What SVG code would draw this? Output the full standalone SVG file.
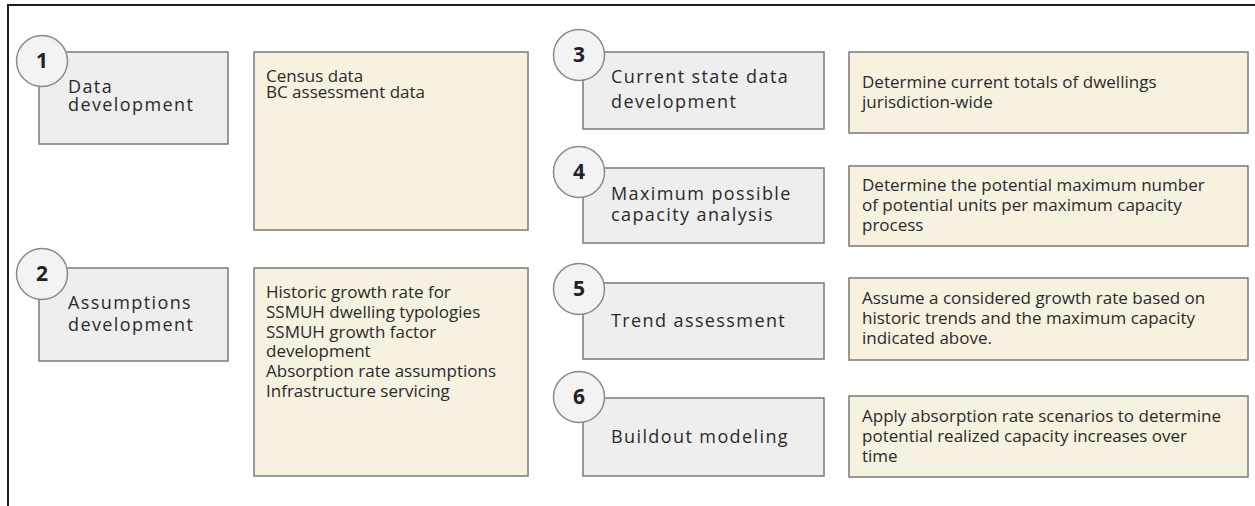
<svg xmlns="http://www.w3.org/2000/svg" width="1255" height="506" viewBox="0 0 1255 506">
<style>
.frame{fill:none;stroke:#1e1e1e;stroke-width:2}
.step{fill:#eeeeee;stroke:#7a7a7a;stroke-width:1.5}
.note{fill:#f7f1e0;stroke:#7a7a7a;stroke-width:1.5}
.badge{fill:#f3f3f3;stroke:#8a8a8a;stroke-width:1.5}
.num{font-family:"Open Sans","Noto Sans",sans-serif;font-weight:700;font-size:21px;fill:#222;text-anchor:middle}
.lbl{font-family:"Open Sans","Noto Sans",sans-serif;font-size:18px;fill:#2a2a2a;letter-spacing:1.4px}
.txt{font-family:"Open Sans","Noto Sans",sans-serif;font-size:17px;fill:#2a2a2a}
</style>
<rect width="1255" height="506" fill="#ffffff"/>
<path class="frame" d="M8,506 V5 H1255"/>
<g id="connectors"></g>
<g id="step1">
<rect class="step" x="39" y="52" width="189" height="92"/>
<circle class="badge" cx="42" cy="61" r="25.5"/>
<text class="num" x="42" y="68">1</text>
<text class="lbl" x="68" y="93">Data</text>
<text class="lbl" x="68" y="111">development</text>
</g>
<g id="note1">
<rect class="note" x="254" y="52" width="274" height="178"/>
<text class="txt" x="266" y="82">Census data</text>
<text class="txt" x="266" y="98">BC assessment data</text>
</g>
<g id="step2">
<rect class="step" x="39" y="268" width="189" height="93"/>
<circle class="badge" cx="42" cy="274" r="25.5"/>
<text class="num" x="42" y="281">2</text>
<text class="lbl" x="68" y="309">Assumptions</text>
<text class="lbl" x="68" y="331">development</text>
</g>
<g id="note2">
<rect class="note" x="254" y="268" width="274" height="208"/>
<text class="txt" x="266" y="298">Historic growth rate for</text>
<text class="txt" x="266" y="318">SSMUH dwelling typologies</text>
<text class="txt" x="266" y="338">SSMUH growth factor</text>
<text class="txt" x="266" y="357">development</text>
<text class="txt" x="266" y="377">Absorption rate assumptions</text>
<text class="txt" x="266" y="397">Infrastructure servicing</text>
</g>
<g id="step3">
<rect class="step" x="583" y="52" width="241" height="77"/>
<circle class="badge" cx="579" cy="55" r="25.5"/>
<text class="num" x="579" y="62">3</text>
<text class="lbl" x="611" y="83">Current state data</text>
<text class="lbl" x="611" y="108">development</text>
</g>
<g id="note3">
<rect class="note" x="849" y="52" width="399" height="81"/>
<text class="txt" x="862" y="88">Determine current totals of dwellings</text>
<text class="txt" x="862" y="108">jurisdiction-wide</text>
</g>
<g id="step4">
<rect class="step" x="583" y="168" width="241" height="75"/>
<circle class="badge" cx="579" cy="172" r="25.5"/>
<text class="num" x="579" y="179">4</text>
<text class="lbl" x="611" y="200">Maximum possible</text>
<text class="lbl" x="611" y="221">capacity analysis</text>
</g>
<g id="note4">
<rect class="note" x="849" y="166" width="399" height="80"/>
<text class="txt" x="862" y="191">Determine the potential maximum number</text>
<text class="txt" x="862" y="211">of potential units per maximum capacity</text>
<text class="txt" x="862" y="231">process</text>
</g>
<g id="step5">
<rect class="step" x="583" y="283" width="241" height="76"/>
<circle class="badge" cx="579" cy="289" r="25.5"/>
<text class="num" x="579" y="296">5</text>
<text class="lbl" x="611" y="327">Trend assessment</text>
</g>
<g id="note5">
<rect class="note" x="849" y="278" width="399" height="82"/>
<text class="txt" x="862" y="304">Assume a considered growth rate based on</text>
<text class="txt" x="862" y="324">historic trends and the maximum capacity</text>
<text class="txt" x="862" y="344">indicated above.</text>
</g>
<g id="step6">
<rect class="step" x="583" y="398" width="241" height="78"/>
<circle class="badge" cx="579" cy="397" r="25.5"/>
<text class="num" x="579" y="404">6</text>
<text class="lbl" x="611" y="443">Buildout modeling</text>
</g>
<g id="note6">
<rect class="note" x="849" y="396" width="399" height="81"/>
<text class="txt" x="862" y="422">Apply absorption rate scenarios to determine</text>
<text class="txt" x="862" y="442">potential realized capacity increases over</text>
<text class="txt" x="862" y="462">time</text>
</g>
</svg>
